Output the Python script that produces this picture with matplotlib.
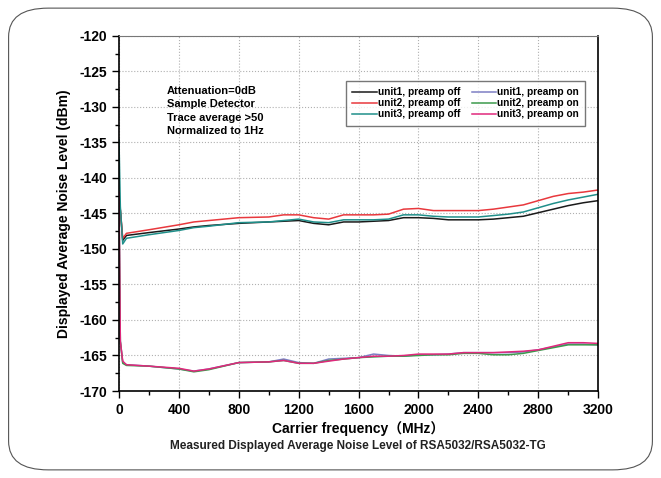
import matplotlib.pyplot as plt
from matplotlib.patches import FancyBboxPatch
from matplotlib.ticker import MultipleLocator

plt.rcParams['font.family'] = ['Liberation Sans', 'Noto Sans CJK SC', 'DejaVu Sans']
plt.rcParams['axes.unicode_minus'] = False

freq = [0, 9, 25, 50, 200, 400, 500, 600, 800, 1000, 1100, 1200, 1300, 1400, 1500, 1600,
        1700, 1800, 1900, 2000, 2100, 2200, 2300, 2400, 2500, 2600, 2700, 2800, 2900, 3000,
        3100, 3200]

unit1_off = [-143.5, -144.5, -148.8, -148.1, -147.7, -147.2, -146.9, -146.7, -146.4, -146.2,
             -146.1, -146.0, -146.4, -146.6, -146.2, -146.2, -146.1, -146.0, -145.6, -145.6,
             -145.7, -145.9, -145.9, -145.9, -145.8, -145.6, -145.4, -144.9, -144.4, -143.9,
             -143.5, -143.2]
unit2_off = [-144.0, -144.5, -148.5, -147.8, -147.3, -146.6, -146.2, -146.0, -145.6, -145.5,
             -145.2, -145.2, -145.6, -145.8, -145.2, -145.2, -145.2, -145.1, -144.4, -144.3,
             -144.6, -144.6, -144.6, -144.6, -144.4, -144.1, -143.8, -143.2, -142.6, -142.2,
             -142.0, -141.7]
unit3_off = [-134.6, -144.0, -149.3, -148.5, -148.0, -147.4, -147.0, -146.8, -146.3, -146.2,
             -146.0, -145.8, -146.2, -146.3, -145.9, -145.9, -145.9, -145.8, -145.2, -145.2,
             -145.4, -145.5, -145.5, -145.5, -145.3, -145.1, -144.8, -144.2, -143.6, -143.1,
             -142.7, -142.3]
unit1_on = [-143.0, -163.0, -166.0, -166.3, -166.5, -166.9, -167.2, -166.9, -166.0, -165.9,
            -165.5, -166.0, -166.1, -165.5, -165.4, -165.3, -164.8, -165.0, -165.1, -164.9,
            -164.9, -164.8, -164.6, -164.6, -164.6, -164.6, -164.5, -164.2, -163.8, -163.4,
            -163.4, -163.5]
unit2_on = [-143.0, -163.0, -166.1, -166.4, -166.5, -166.9, -167.3, -167.0, -166.0, -165.9,
            -165.7, -166.1, -166.1, -165.7, -165.5, -165.3, -165.2, -165.1, -165.1, -165.0,
            -164.9, -164.9, -164.7, -164.7, -164.9, -164.9, -164.7, -164.3, -163.9, -163.5,
            -163.5, -163.5]
unit3_on = [-142.0, -163.0, -165.8, -166.3, -166.5, -166.8, -167.2, -166.9, -166.0, -165.9,
            -165.7, -166.1, -166.1, -165.8, -165.5, -165.3, -165.1, -165.1, -165.0, -164.8,
            -164.8, -164.8, -164.6, -164.6, -164.6, -164.5, -164.4, -164.2, -163.7, -163.2,
            -163.2, -163.3]

series = [
    ("unit1, preamp off", unit1_off, "#1a1a1a"),
    ("unit2, preamp off", unit2_off, "#e8383d"),
    ("unit3, preamp off", unit3_off, "#1f8f8a"),
    ("unit1, preamp on", unit1_on, "#7d7fc4"),
    ("unit2, preamp on", unit2_on, "#3c9a4c"),
    ("unit3, preamp on", unit3_on, "#e0287c"),
]

fig = plt.figure(figsize=(6.61, 4.78), dpi=100)
fig.patches.append(FancyBboxPatch((0.013, 0.017), 0.974, 0.966,
                                  boxstyle="round,pad=0,rounding_size=0.06",
                                  transform=fig.transFigure, fill=False,
                                  edgecolor="#555555", linewidth=0.8))

ax = fig.add_axes([0.180, 0.182, 0.725, 0.743])
for label, vals, color in series:
    ax.plot(freq, vals, color=color, linewidth=1.1, label=label)

ax.set_xlim(0, 3200)
ax.set_ylim(-170, -120)
ax.xaxis.set_major_locator(MultipleLocator(400))
ax.xaxis.set_minor_locator(MultipleLocator(200))
ax.yaxis.set_major_locator(MultipleLocator(5))
ax.yaxis.set_minor_locator(MultipleLocator(2.5))
ax.tick_params(which='major', length=5, width=1, labelsize=10)
ax.tick_params(which='minor', length=3, width=1)
for lbl in ax.get_xticklabels() + ax.get_yticklabels():
    lbl.set_fontweight('bold')
ax.grid(True, which='major', linestyle=':', color='#b0b0b0', linewidth=0.8)
for s in ['left', 'bottom', 'right']:
    ax.spines[s].set_linewidth(1.2)
ax.spines['top'].set_color('#777777')

ax.set_xlabel("Carrier frequency（MHz）", fontsize=10, fontweight='bold', labelpad=3)
ax.set_ylabel("Displayed Average Noise Level (dBm)", fontsize=10, fontweight='bold', labelpad=6)

ax.text(0.10, 0.86, "Attenuation=0dB\nSample Detector\nTrace average >50\nNormalized to 1Hz",
        transform=ax.transAxes, fontsize=8, fontweight='bold', va='top', linespacing=1.45)

leg = ax.legend(ncol=2, loc='upper right', bbox_to_anchor=(0.973, 0.872),
                prop={'weight': 'bold', 'size': 7.3}, frameon=True, fancybox=False,
                handlelength=2.4, handletextpad=0.15, columnspacing=1.1, labelspacing=0.1,
                borderpad=0.6, borderaxespad=0)
leg.get_frame().set_edgecolor('#555555')
leg.get_frame().set_linewidth(1.0)

fig.text(0.541, 0.060, "Measured Displayed Average Noise Level of RSA5032/RSA5032-TG",
         ha='center', fontsize=8.5, fontweight='bold', color='#222222')

fig.savefig("out.png", dpi=100)
